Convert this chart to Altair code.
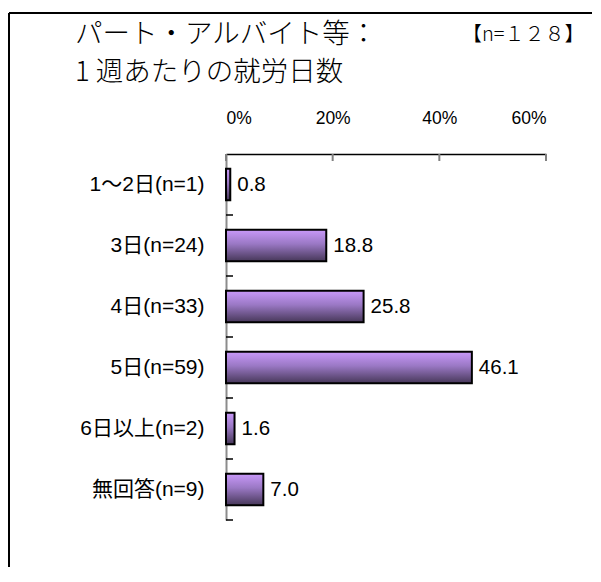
import altair as alt
import pandas as pd

# ---- data ----
CATEGORIES = ["1～2日(n=1)", "3日(n=24)", "4日(n=33)", "5日(n=59)", "6日以上(n=2)", "無回答(n=9)"]
VALUES = [0.8, 18.8, 25.8, 46.1, 1.6, 7.0]
X_TICKS = [0, 20, 40, 60]
TITLE_1 = "パート・アルバイト等："
TITLE_2 = "1 週あたりの就労日数"
N_LABEL = "【n=１２８】"

W, H = 320, 366
FONT = "'Liberation Sans', Arial, 'Noto Sans CJK JP'"
CJK = "'Noto Sans CJK JP', 'Liberation Sans'"

df = pd.DataFrame({"cat": CATEGORIES, "val": VALUES})
ticks_df = pd.DataFrame({"t": X_TICKS})

xscale = alt.Scale(domain=[0, 60], nice=False, zero=True)
yscale = alt.Scale(paddingInner=0, paddingOuter=0)

x_axis = alt.Axis(
    orient="top", values=X_TICKS, labelExpr="datum.value + '%'", ticks=False,
    grid=False, domainColor="black", domainWidth=1.5, labelFontSize=17.5,
    labelFont=FONT, labelColor="black", labelPadding=27, title=None,
)
y_axis = alt.Axis(
    ticks=False, grid=False, domainColor="#8c8c8c", domainWidth=2,
    labelFontSize=21, labelFont=FONT, labelColor="black", labelPadding=22,
    title=None,
)

grad = alt.Gradient(
    gradient="linear",
    stops=[alt.GradientStop(color="#c999fa", offset=0),
           alt.GradientStop(color="#9a78c4", offset=0.45),
           alt.GradientStop(color="#463758", offset=1)],
    x1=0, x2=0, y1=0, y2=1,
)

base = alt.Chart(df)

bars = base.mark_bar(
    color=grad, stroke="black", strokeWidth=2, height=alt.RelativeBandSize(0.52)
).encode(
    x=alt.X("val:Q", scale=xscale, axis=x_axis),
    y=alt.Y("cat:N", sort=CATEGORIES, scale=yscale, axis=y_axis),
)

labels = base.mark_text(
    align="left", baseline="middle", dx=7, fontSize=20.5, font=FONT, color="black"
).encode(
    x=alt.X("val:Q", scale=xscale),
    y=alt.Y("cat:N", sort=CATEGORIES, scale=yscale),
    text=alt.Text("val:Q", format=".1f"),
)

ytick_rules = base.mark_rule(color="black", strokeWidth=1.5).encode(
    y=alt.Y("cat:N", sort=CATEGORIES, scale=yscale, bandPosition=1),
    x=alt.value(0), x2=alt.value(7),
)

xtick_rules = alt.Chart(ticks_df).mark_rule(color="#808080", strokeWidth=2).encode(
    x=alt.X("t:Q", scale=xscale),
    y=alt.value(0), y2=alt.value(7),
)

t1 = alt.Chart(pd.DataFrame({"t": [TITLE_1]})).mark_text(
    align="left", baseline="middle", fontSize=27.5, font=CJK, fontWeight=300, color="black"
).encode(x=alt.value(-151), y=alt.value(-119), text="t:N")
t2 = alt.Chart(pd.DataFrame({"t": [TITLE_2]})).mark_text(
    align="left", baseline="middle", fontSize=27.5, font=CJK, fontWeight=300, color="black"
).encode(x=alt.value(-151), y=alt.value(-81), text="t:N")
t3 = alt.Chart(pd.DataFrame({"t": [N_LABEL]})).mark_text(
    align="left", baseline="middle", fontSize=20, font=CJK, fontWeight=300, color="black"
).encode(x=alt.value(236), y=alt.value(-119), text="t:N")

frame_left = alt.Chart(pd.DataFrame({"a": [0]})).mark_rule(color="black", strokeWidth=2).encode(
    x=alt.value(-217), y=alt.value(-141), y2=alt.value(413)
)
frame_top = alt.Chart(pd.DataFrame({"a": [0]})).mark_rule(color="black", strokeWidth=2).encode(
    x=alt.value(-217), x2=alt.value(366), y=alt.value(-141)
)

chart = alt.layer(
    frame_left, frame_top, bars, labels, ytick_rules, xtick_rules, t1, t2, t3
).properties(
    width=W, height=H, padding={"left": 0, "top": 4, "right": 0, "bottom": 0}
).configure(background="white").configure_view(stroke=None)

chart.save("out.html", embed_options={"renderer": "svg", "actions": False})
